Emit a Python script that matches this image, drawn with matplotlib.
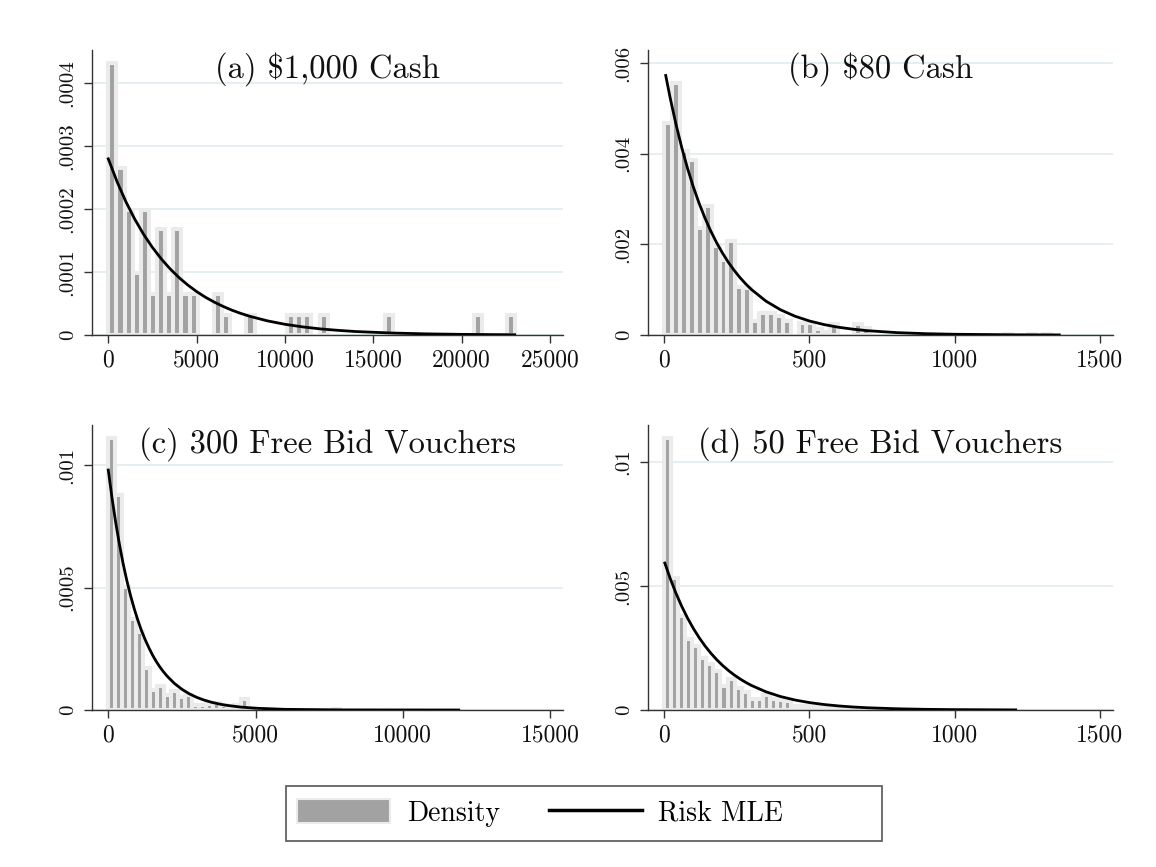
"""Four-panel histogram + exponential MLE density figure (Stata look)."""
import numpy as np
import matplotlib
matplotlib.use("Agg")
import matplotlib.pyplot as plt
from matplotlib.patches import Rectangle, Patch
from matplotlib.lines import Line2D

plt.rcParams["font.family"] = ["cmr10", "DejaVu Serif"]
plt.rcParams["axes.formatter.use_mathtext"] = True

TITLES = ["(a) \\$1,000 Cash", "(b) \\$80 Cash",
          "(c) 300 Free Bid Vouchers", "(d) 50 Free Bid Vouchers"]

# histogram bins: start, width, density per bin (50 bins each)
BIN_START = [0, 0, 0, 0]
BIN_WIDTH = [460, 27.2, 238, 24.2]

DENS_A = [4.33e-4, 2.65e-4, 1.98e-4, 0.98e-4, 1.98e-4, 0.654e-4, 1.68e-4, 0.654e-4,
          1.68e-4, 0.654e-4, 0.654e-4, 0, 0, 0.654e-4, 0.314e-4, 0, 0, 0.314e-4,
          0, 0, 0, 0, 0.314e-4, 0.314e-4, 0.314e-4, 0, 0.314e-4, 0, 0, 0,
          0, 0, 0, 0, 0.314e-4, 0, 0, 0, 0, 0,
          0, 0, 0, 0, 0, 0.314e-4, 0, 0, 0, 0.314e-4]
DENS_B = [.00467, .00556, .00406, .00386, .00236, .00284, .00196, .00166, .00207, .00107,
          .00103, .00032, .00049, .00049, .00043, .00032, 0, .00027, .00026, .00013,
          .00007, .00024, 0, 0, .00024, .00016, 0, 0, 0, 0,
          0, 0, 0, 0, 0, 0, 0, 0, 0, 0,
          0, 0, 0, .00003, 0, 0, .00003, 0, .00003, 0]
DENS_C = [.001112, .000877, .000504, .000372, .00032, .000172, .0000833, .000097, .00006, .000078,
          .000053, .00006, .00002, .000022, .000026, .00003, .00002, .000015, .00002, .000044,
          .000008, 0, 0, 0, 0, 0, 0, 0, 0, 0,
          0, 0, .000006, 0, 0, 0, 0, 0, 0, 0,
          0, 0, 0, 0, 0, 0, 0, 0, 0, 0]
DENS_D = [.01097, .00532, .00381, .00287, .00257, .00208, .00185, .00158, .00097, .00124,
          .00088, .00074, .00043, .00043, .0006, .00043, .00039, .00037, .00016, .00016,
          .00016, .00012, .0001, .00008, .00008, .00005, .00005, .00003, 0, 0,
          0, 0, .00006, 0, 0, 0, 0, 0, 0, 0,
          0, 0, 0, 0, 0, 0, 0, 0, 0, 0]

# Risk MLE curve
MLE_X_A = [0, 500, 1000, 1500, 2000, 2500, 3000, 3500, 4000, 4500, 5000, 5500, 6000, 6500,
           7000, 7500, 8000, 9000, 10000, 11000, 12000, 13000, 14000, 16000, 18000, 20000, 23000]
MLE_Y_A = [2.800e-4, 2.434e-4, 2.116e-4, 1.840e-4, 1.599e-4, 1.391e-4, 1.209e-4, 1.051e-4,
           9.13e-5, 7.94e-5, 6.90e-5, 6.00e-5, 5.22e-5, 4.54e-5, 3.94e-5, 3.43e-5, 2.98e-5,
           2.25e-5, 1.70e-5, 1.29e-5, 9.7e-6, 7.4e-6, 5.5e-6, 3.2e-6, 1.8e-6, 1.0e-6, 4e-7]
MLE_X_B = [5, 20, 40, 60, 80, 100, 120, 140, 160, 180, 200, 220, 240, 260, 280, 300,
           350, 400, 450, 500, 550, 600, 650, 700, 800, 900, 1000, 1200, 1360]
MLE_Y_B = [.005728, .005243, .004660, .004141, .003680, .003270, .002906, .002583, .002295,
           .002040, .001813, .001611, .001432, .001272, .001131, .001005, .000748, .000557,
           .000415, .000309, .000230, .000171, .000128, .0000949, .0000526, .0000292,
           .0000162, .00000497, .00000194]
MLE_X_C = [0, 125, 250, 375, 500, 625, 750, 875, 1000, 1125, 1250, 1375, 1500, 1625, 1750,
           1875, 2000, 2250, 2500, 2750, 3000, 3250, 3500, 3750, 4000, 4500, 5000, 6000,
           8000, 11900]
MLE_Y_C = [.000980, .000867, .000767, .000679, .000600, .000531, .000470, .000416, .000368,
           .000325, .000288, .000255, .000225, .000199, .000176, .000156, .000138, .000108,
           .0000846, .0000662, .0000518, .0000406, .0000318, .0000248, .0000194, .0000119,
           .0000073, .0000027, .0000004, 0]
MLE_X_D = [2, 20, 40, 60, 80, 100, 120, 140, 160, 180, 200, 220, 240, 260, 280, 300,
           350, 400, 450, 500, 550, 600, 650, 700, 800, 900, 1000, 1210]
MLE_Y_D = [.005929, .005321, .004719, .004186, .003712, .003293, .002920, .002590, .002297,
           .002037, .001807, .001603, .001421, .001261, .001118, .000992, .000735, .000544,
           .000403, .000299, .000221, .000164, .000121, .0000900, .0000494, .0000271,
           .0000149, .0000042]

X_TICKS = [[0, 5000, 10000, 15000, 20000, 25000], [0, 500, 1000, 1500],
           [0, 5000, 10000, 15000], [0, 500, 1000, 1500]]
Y_TICKS = [[0, .0001, .0002, .0003, .0004], [0, .002, .004, .006],
           [0, .0005, .001], [0, .005, .01]]
Y_LABELS = [["0", ".0001", ".0002", ".0003", ".0004"], ["0", ".002", ".004", ".006"],
            ["0", ".0005", ".001"], ["0", ".005", ".01"]]
X_LIMS = [(-922, 25733), (-56, 1545), (-553, 15440), (-56, 1545)]
Y_LIMS = [(0, 0.000453), (0, 0.00629), (0, 0.001164), (0, 0.0115)]

BAR_FACE = "#a2a2a2"
BAR_EDGE = "#ebebeb"
GRID = "#e3edf0"
AXIS = "#333333"

W, H = 1156, 867
# axes boxes in pixels: left, top, right, bottom
BOXES = [(92, 50, 563, 335), (648, 50, 1113, 335),
         (92, 425, 563, 710), (648, 425, 1113, 710)]


def main():
    fig = plt.figure(figsize=(W / 100, H / 100), dpi=100)
    dens = [DENS_A, DENS_B, DENS_C, DENS_D]
    mx = [MLE_X_A, MLE_X_B, MLE_X_C, MLE_X_D]
    my = [MLE_Y_A, MLE_Y_B, MLE_Y_C, MLE_Y_D]

    for i in range(4):
        l, t, r, b = BOXES[i]
        ax = fig.add_axes([l / W, (H - b) / H, (r - l) / W, (b - t) / H])
        d = np.array(dens[i])
        centers = BIN_START[i] + BIN_WIDTH[i] * (np.arange(len(d)) + 0.5)
        keep = d > 0
        ax.bar(centers[keep], d[keep], width=BIN_WIDTH[i], color=BAR_FACE,
               edgecolor=BAR_EDGE, linewidth=2.9, zorder=2)
        ax.plot(mx[i], my[i], color="black", lw=2.0, zorder=3,
                solid_joinstyle="round")

        ax.set_xlim(*X_LIMS[i]); ax.set_ylim(*Y_LIMS[i])
        ax.set_xticks(X_TICKS[i])
        ax.set_xticklabels([str(v) for v in X_TICKS[i]])
        ax.set_yticks(Y_TICKS[i])
        ax.set_yticklabels(Y_LABELS[i], rotation=90, va="center")
        ax.tick_params(length=6, width=1.0, color=AXIS, labelcolor="#111111")
        ax.tick_params(axis="x", labelsize=17, pad=4)
        ax.tick_params(axis="y", labelsize=15, pad=5)
        for s in ["top", "right"]:
            ax.spines[s].set_visible(False)
        for s in ["left", "bottom"]:
            ax.spines[s].set_color(AXIS)
            ax.spines[s].set_linewidth(1.0)
        ax.grid(axis="y", color=GRID, lw=1.3)
        ax.set_axisbelow(True)
        ax.text(0.5, 0.905, TITLES[i], transform=ax.transAxes, ha="center",
                va="baseline", fontsize=23.5, color="#111111", zorder=4)

    # legend: frame drawn separately so its width matches the original box
    fig.add_artist(Rectangle((286 / W, (H - 841) / H), 596 / W, 55 / H,
                             transform=fig.transFigure, fill=False,
                             edgecolor="#555555", lw=1.2))
    handles = [Patch(facecolor=BAR_FACE, edgecolor=BAR_EDGE, lw=1.5),
               Line2D([], [], color="black", lw=2.5)]
    fig.legend(handles, ["Density", "Risk MLE"], ncol=2, frameon=False,
               loc="center left", bbox_to_anchor=(297 / W, (H - 813) / H),
               borderpad=0, borderaxespad=0, fontsize=20, handlelength=3.35,
               handleheight=0.94, handletextpad=0.6, columnspacing=1.76)

    fig.savefig("out.png", dpi=100, facecolor="white")


if __name__ == "__main__":
    main()
